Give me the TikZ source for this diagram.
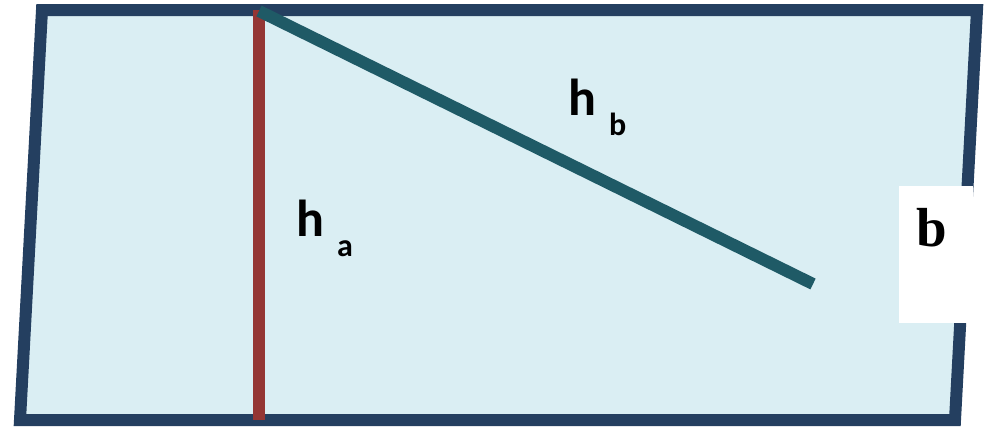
\documentclass[tikz,border=0pt]{standalone}
\usepackage{fontspec}
\setmainfont{Liberation Serif}
\newfontfamily\calibri{Carlito}
\definecolor{navy}{HTML}{243F60}
\definecolor{brickred}{HTML}{943634}
\definecolor{tealline}{HTML}{1F5A66}
\definecolor{paleblue}{HTML}{DAEEF3}
\tikzset{
  border/.style={draw=navy, fill=paleblue, line width=12pt, line join=miter},
  heightred/.style={draw=brickred, line width=12pt},
  heightteal/.style={draw=tealline, line width=12pt},
  hlabel/.style={inner sep=0pt, anchor=base west, font=\calibri\bfseries\fontsize{52}{52}\selectfont},
  sidebox/.style={fill=white, inner sep=0pt, minimum width=74pt, minimum height=137pt, anchor=north west},
  sidelabel/.style={inner sep=0pt, anchor=base, font=\bfseries\fontsize{55}{55}\selectfont}
}
\newcommand{\subtext}[1]{\hspace{13pt}\raisebox{-20pt}{\fontsize{32}{32}\selectfont #1}}
\begin{document}
\begin{tikzpicture}[x=1pt, y=-1pt]
\useasboundingbox (0,0) rectangle (988,426);
\coordinate (tl) at (42,10);
\coordinate (tr) at (977,10);
\coordinate (br) at (955,420);
\coordinate (bl) at (20,420);
\draw[border] (tl) -- (tr) -- (br) -- (bl) -- cycle;
\coordinate (ratop) at (259,10);
\coordinate (rabot) at (259,420);
\coordinate (hbtop) at (259,11);
\coordinate (hbend) at (813,284);
\draw[heightred] (ratop) -- (rabot);
\draw[heightteal] (hbtop) -- (hbend);
\node[hlabel] (ha) at (296,236) {h\subtext{a}};
\node[hlabel] (hb) at (568,115) {h\subtext{b}};
\node[sidebox] (bbox) at (899,186) {};
\node[sidelabel] (blab) at (932,246) {b};
\end{tikzpicture}
\end{document}
